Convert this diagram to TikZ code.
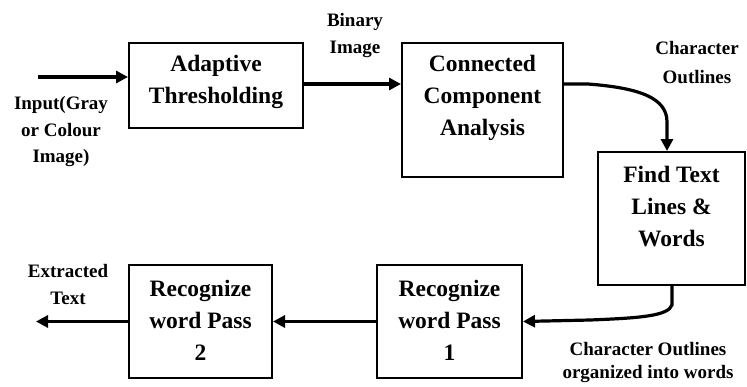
\documentclass[tikz,border=0pt]{standalone}
\usepackage{fontspec}
\setmainfont{Liberation Serif}
\usetikzlibrary{arrows.meta}
\tikzset{
  box/.style={draw, line width=2pt, inner sep=0pt},
  boxtext/.style={align=center, font=\bfseries\fontsize{23.5}{32}\selectfont, inner sep=0pt},
  lbl/.style={align=center, font=\bfseries\fontsize{19}{#1}\selectfont, inner sep=0pt},
  conn/.style={line width=3.2pt, -{Triangle[length=12pt,width=12pt]}},
}
\begin{document}
\begin{tikzpicture}[x=1pt,y=-1pt]
\useasboundingbox (0,0) rectangle (747,386);
% boxes
\node[box, minimum width=174, minimum height=85] (at) at (216,85.5) {};
\node[boxtext] (att) at (216,82) {Adaptive\\Thresholding};
\node[box, minimum width=161, minimum height=134] (cca) at (482.5,110) {};
\node[boxtext] (ccat) at (482.5,98) {Connected\\Component\\Analysis};
\node[box, minimum width=147, minimum height=133] (find) at (671.5,218.5) {};
\node[boxtext] (findt) at (671.5,207) {Find Text\\Lines \&\\Words};
\node[box, minimum width=145, minimum height=113] (r1) at (449.5,321.5) {};
\node[boxtext] (r1t) at (449.5,320) {Recognize\\word Pass\\1};
\node[box, minimum width=143, minimum height=113] (r2) at (200.5,321.5) {};
\node[boxtext] (r2t) at (200.5,320) {Recognize\\word Pass\\2};
% labels
\node[lbl=27] (lbin) at (355,36) {Binary\\Image};
\node[lbl=26.5] (lin) at (61,132) {Input(Gray\\or Colour\\Image)};
\node[lbl=29] (lco) at (697,63) {Character\\Outlines};
\node[lbl=27] (lext) at (68,284) {Extracted\\Text};
\node[lbl=23] (lorg) at (648,362) {Character Outlines\\organized into words};
% connectors
\coordinate (inp) at (38,77);
\coordinate (outp) at (36,321.5);
\draw[conn] (inp) -- (at.west |- inp);
\draw[conn] (at.east |- 0,84) -- (cca.west |- 0,84);
\draw[conn] (cca.east |- 0,84) -- (588,84) .. controls (640,88) and (667,98) .. (667,122) -- ([xshift=-4.5pt]find.north);
\draw[conn] ([xshift=0.5pt]find.south) -- (672,305) .. controls (668,316) and (640,318) .. (590,320) -- (r1.east);
\draw[conn] (r1.west) -- (r2.east);
\draw[conn] (r2.west) -- (outp);
\end{tikzpicture}
\end{document}
